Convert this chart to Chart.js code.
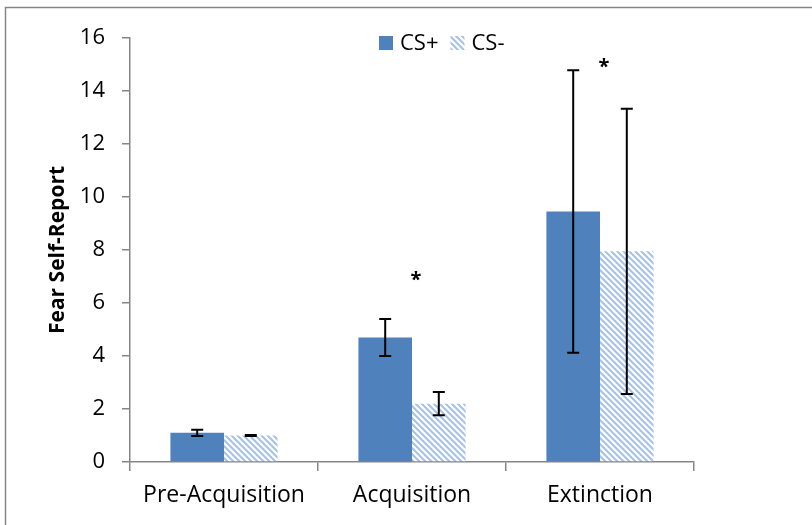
<!DOCTYPE html>
<html>
<head>
<meta charset="utf-8">
<script src="https://cdn.jsdelivr.net/npm/chart.js@4/dist/chart.umd.min.js"></script>
<style>
  html, body { margin: 0; padding: 0; background: #ffffff; }
  canvas { display: block; }
</style>
</head>
<body>
<canvas id="chart" width="812" height="525"></canvas>
<script>
// Fear self-report ratings per phase, CS+ vs CS-
const categories = ['Pre-Acquisition', 'Acquisition', 'Extinction'];
const seriesNames = ['CS+', 'CS-'];
const csPlus = [1.1, 4.7, 9.45];
const csMinus = [1.0, 2.2, 7.95];
const csPlusErr = [0.12, 0.7, 5.33];
const csMinusErr = [0.02, 0.44, 5.38];
const sigMarks = ['', '*', '*'];
const sigMarkValues = [null, 7.05, 15.1];
const yMin = 0, yMax = 16, yStep = 2;
const yTitle = 'Fear Self-Report';

const FONT = '"Open Sans", Lato, sans-serif';
const AXIS_GREY = '#868686';
const BLUE = '#4f81bd';

// light-blue diagonal hatch used for the CS- bars
function makeHatch(color) {
  const n = 6;
  const c = document.createElement('canvas');
  c.width = n; c.height = n;
  const g = c.getContext('2d');
  g.fillStyle = '#ffffff';
  g.fillRect(0, 0, n, n);
  g.strokeStyle = color;
  g.lineWidth = 2;
  g.beginPath();
  g.moveTo(-1, -1); g.lineTo(n + 1, n + 1);
  g.moveTo(-n / 2 - 1, n / 2 - 1); g.lineTo(n / 2 + 1, n * 1.5 + 1);
  g.moveTo(n / 2 - 1, -n / 2 - 1); g.lineTo(n * 1.5 + 1, n / 2 + 1);
  g.stroke();
  return g.createPattern(c, 'repeat');
}
const hatch = makeHatch('#a6c1e8');

const errors = [csPlusErr, csMinusErr];

// outer frame
const framePlugin = {
  id: 'frame',
  beforeDraw(chart) {
    const ctx = chart.ctx;
    ctx.save();
    ctx.strokeStyle = AXIS_GREY;
    ctx.lineWidth = 1.5;
    ctx.strokeRect(5.5, 7.5, 1000, 1000);
    ctx.restore();
  }
};

// error bars with caps
const errorBarPlugin = {
  id: 'errorBars',
  afterDatasetsDraw(chart) {
    const ctx = chart.ctx;
    const y = chart.scales.y;
    ctx.save();
    ctx.strokeStyle = '#000000';
    ctx.lineWidth = 2;
    chart.data.datasets.forEach((ds, i) => {
      const meta = chart.getDatasetMeta(i);
      meta.data.forEach((bar, j) => {
        const v = ds.data[j];
        const e = errors[i][j];
        const top = y.getPixelForValue(v + e);
        const bot = y.getPixelForValue(v - e);
        const x = bar.x;
        const cap = 6;
        ctx.beginPath();
        ctx.moveTo(x, top); ctx.lineTo(x, bot);
        ctx.moveTo(x - cap, top); ctx.lineTo(x + cap, top);
        ctx.moveTo(x - cap, bot); ctx.lineTo(x + cap, bot);
        ctx.stroke();
      });
    });
    ctx.restore();
  }
};

// significance asterisks above groups
const sigPlugin = {
  id: 'sigMarks',
  afterDatasetsDraw(chart) {
    const ctx = chart.ctx;
    const x = chart.scales.x, y = chart.scales.y;
    ctx.save();
    ctx.fillStyle = '#000000';
    ctx.font = 'bold 20px ' + FONT;
    ctx.textAlign = 'center';
    ctx.textBaseline = 'alphabetic';
    sigMarks.forEach((m, j) => {
      if (!m || sigMarkValues[j] == null) return;
      ctx.fillText(m, x.getPixelForValue(j) + 4, y.getPixelForValue(sigMarkValues[j]) + 11);
    });
    ctx.restore();
  }
};

// legend drawn inside the plot area
const legendPlugin = {
  id: 'innerLegend',
  afterDraw(chart) {
    const ctx = chart.ctx;
    ctx.save();
    ctx.font = '22px ' + FONT;
    ctx.textBaseline = 'middle';
    let xPos = 379;
    const yMid = 43;
    chart.data.datasets.forEach((ds) => {
      ctx.fillStyle = ds.backgroundColor;
      ctx.fillRect(xPos, yMid - 7, 14, 14);
      ctx.fillStyle = '#000000';
      ctx.fillText(ds.label, xPos + 21, yMid + 1);
      xPos += 21 + ctx.measureText(ds.label).width + 12;
    });
    ctx.restore();
  }
};

new Chart(document.getElementById('chart'), {
  type: 'bar',
  data: {
    labels: categories,
    datasets: [
      { label: seriesNames[0], data: csPlus, backgroundColor: BLUE, borderWidth: 0 },
      { label: seriesNames[1], data: csMinus, backgroundColor: hatch, borderWidth: 0 }
    ]
  },
  options: {
    responsive: false,
    animation: false,
    layout: { padding: { top: 38, right: 118, left: 0, bottom: 0 } },
    datasets: { bar: { categoryPercentage: 0.57, barPercentage: 1.0 } },
    plugins: {
      legend: { display: false },
      tooltip: { enabled: false }
    },
    scales: {
      x: {
        grid: { offset: true, drawOnChartArea: false, tickLength: 9, color: AXIS_GREY, lineWidth: 1.5 },
        border: { color: AXIS_GREY, width: 1.5 },
        ticks: { color: '#000000', font: { family: FONT, size: 23 }, padding: 11 },
        afterFit(s) { s.height = 63; }
      },
      y: {
        min: yMin,
        max: yMax,
        ticks: { stepSize: yStep, color: '#000000', font: { family: FONT, size: 22 }, padding: 17 },
        grid: { drawOnChartArea: false, tickLength: 8, color: AXIS_GREY, lineWidth: 1.5 },
        border: { color: AXIS_GREY, width: 1.5 },
        title: {
          display: true,
          text: yTitle,
          color: '#000000',
          font: { family: FONT, size: 21, weight: 'bold' },
          padding: { top: 45, bottom: 0 }
        },
        afterFit(s) { s.width = 130; }
      }
    }
  },
  plugins: [framePlugin, errorBarPlugin, sigPlugin, legendPlugin]
});
</script>
</body>
</html>
